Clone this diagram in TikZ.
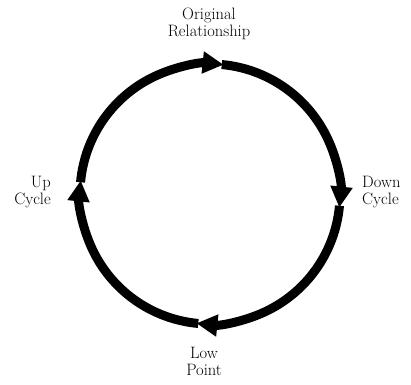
\documentclass[tikz,border=0pt]{standalone}
\usetikzlibrary{arrows.meta}
\begin{document}
\begin{tikzpicture}[x=1pt,y=1pt,
  cyc/.style={line width=9pt,-{Triangle[length=21pt,width=21pt]}},
  lbl/.style={font=\fontsize{16.5}{17}\selectfont,inner sep=0pt}]
\useasboundingbox (0,0) rectangle (411,384);
\coordinate (c) at (210,190);
\draw[cyc] ([shift={(174.8:130)}]c) arc[start angle=174.8, end angle=84, radius=130];
\draw[cyc] ([shift={(84.8:130)}]c) arc[start angle=84.8, end angle=-6, radius=130];
\draw[cyc] ([shift={(-5.2:130)}]c) arc[start angle=-5.2, end angle=-96, radius=130];
\draw[cyc] ([shift={(-95.2:130)}]c) arc[start angle=-95.2, end angle=-186, radius=130];
\node[lbl,align=center] (orig) at (209,360) {Original\\Relationship};
\node[lbl,align=left,anchor=west] (down) at (362,192) {Down\\Cycle};
\node[lbl,align=right,anchor=east] (up) at (51,192) {Up\\Cycle};
\node[lbl,align=center] (low) at (204,23) {Low\\Point};
\end{tikzpicture}
\end{document}
